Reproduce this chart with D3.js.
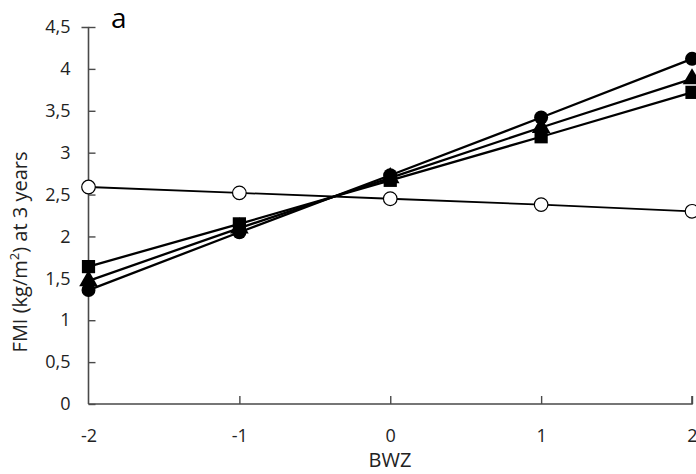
<!DOCTYPE html>
<html><head><meta charset="utf-8">
<script src="https://cdn.jsdelivr.net/npm/d3@7"></script>
<style>html,body{margin:0;padding:0;background:#fff;overflow:hidden}</style>
</head><body>
<svg id="c" width="696" height="474"></svg>
<script>
const bwz = [-2, -1, 0, 1, 2];
const xTicks = [-2, -1, 0, 1, 2];
const yTicks = [0, 0.5, 1, 1.5, 2, 2.5, 3, 3.5, 4, 4.5];
const seriesCircle = [1.36, 2.05, 2.73, 3.42, 4.12];
const seriesTriangle = [1.47, 2.10, 2.70, 3.30, 3.88];
const seriesSquare = [1.64, 2.15, 2.67, 3.19, 3.72];
const seriesOpen = [2.59, 2.52, 2.45, 2.38, 2.30];
const panelLabel = "a";
const xTitle = "BWZ";

const svg = d3.select("#c");
const x = d3.scaleLinear().domain([-2, 2]).range([88.5, 692]);
const y = d3.scaleLinear().domain([0, 4.5]).range([404, 27]);
const font = "'Open Sans', sans-serif";
const fmt = d => String(d).replace(".", ",");

// axes
const ax = svg.append("g").attr("transform", "translate(0,404)")
  .call(d3.axisBottom(x).tickValues(xTicks).tickSize(-8).tickPadding(21).tickFormat(fmt));
const ay = svg.append("g").attr("transform", "translate(88.5,0)")
  .call(d3.axisLeft(y).tickValues(yTicks).tickSize(-7).tickPadding(18).tickFormat(fmt));
[ax, ay].forEach(g => {
  g.select(".domain").attr("stroke", "#4a4a4a").attr("stroke-width", 1.6);
  g.selectAll(".tick line").attr("stroke", "#4a4a4a").attr("stroke-width", 1.4);
  g.selectAll(".tick text").attr("font-family", font).attr("font-size", 18).attr("fill", "#222");
});
ay.select(".domain").attr("d", "M-7,27.5H0V404");
ax.select(".domain").attr("d", "M88.5,0H692V-8");
ax.selectAll(".tick line").filter(d => d === -2).remove();
ax.selectAll(".tick text").attr("dy", "0.95em");
ay.selectAll(".tick text").attr("dx", "0");

const line = d3.line().x((d, i) => x(bwz[i])).y(d => y(d));
const plot = svg.append("g");
function drawLine(vals, w) {
  plot.append("path").attr("d", line(vals)).attr("fill", "none").attr("stroke", "#000").attr("stroke-width", w);
}
drawLine(seriesOpen, 1.8);
drawLine(seriesSquare, 2.3);
drawLine(seriesTriangle, 2.3);
drawLine(seriesCircle, 2.3);

// markers
plot.selectAll(".op").data(seriesOpen).enter().append("circle")
  .attr("cx", (d, i) => x(bwz[i])).attr("cy", d => y(d)).attr("r", 6.8)
  .attr("fill", "#fff").attr("stroke", "#000").attr("stroke-width", 1.2);
plot.selectAll(".sq").data(seriesSquare).enter().append("path")
  .attr("d", d3.symbol(d3.symbolSquare, 175)())
  .attr("transform", (d, i) => `translate(${x(bwz[i])},${y(d)})`).attr("fill", "#000");
plot.selectAll(".tr").data(seriesTriangle).enter().append("path")
  .attr("d", d3.symbol(d3.symbolTriangle, 150)())
  .attr("transform", (d, i) => `translate(${x(bwz[i])},${y(d)})`).attr("fill", "#000");
plot.selectAll(".ci").data(seriesCircle).enter().append("circle")
  .attr("cx", (d, i) => x(bwz[i])).attr("cy", d => y(d)).attr("r", 7).attr("fill", "#000");

// titles
svg.append("text").attr("x", 390).attr("y", 467).attr("text-anchor", "middle")
  .attr("font-family", font).attr("font-size", 20).attr("fill", "#222").text(xTitle);
const yt = svg.append("text").attr("transform", "translate(27,252) rotate(-90)").attr("text-anchor", "middle")
  .attr("font-family", font).attr("font-size", 20).attr("fill", "#222");
yt.append("tspan").text("FMI (kg/m");
yt.append("tspan").attr("font-size", 13).attr("dy", -8).text("2");
yt.append("tspan").attr("dy", 8).text(")  at 3 years");
svg.append("text").attr("x", 111).attr("y", 28).attr("font-family", font).attr("font-size", 28)
  .attr("fill", "#000").text(panelLabel);
</script>
</body></html>
